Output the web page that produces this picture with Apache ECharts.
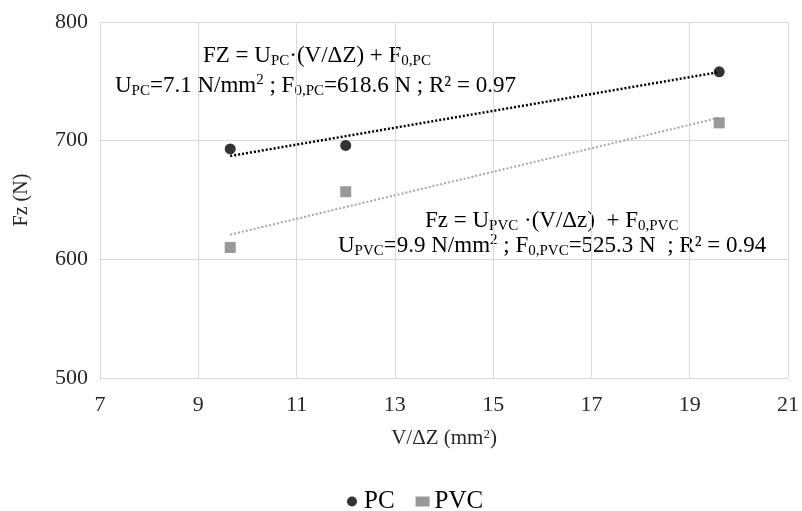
<!DOCTYPE html>
<html>
<head>
<meta charset="utf-8">
<script src="https://cdn.jsdelivr.net/npm/echarts@6/dist/echarts.min.js"></script>
<style>
  html, body { margin: 0; padding: 0; background: #fff; }
  #chart { width: 802px; height: 511px; }
</style>
</head>
<body>
<div id="chart"></div>
<script>
// data
const xValues = [9.65, 12.0, 19.6];
const pcValues = [693, 696, 758];
const pvcValues = [610, 657, 715];
// trend line end points (first and last x)
const trendX = [9.65, 19.6];
const pcTrend = [687.1, 757.8];
const pvcTrend = [620.8, 719.3];

const font = "'Liberation Serif', 'DejaVu Serif', serif";

const pair = (xs, ys) => xs.map((x, i) => [x, ys[i]]);

const txt = { fontFamily: font, fontSize: 23, color: "#000", lineHeight: 26 };
const sub = { fontFamily: font, fontSize: 15, color: "#000", verticalAlign: "bottom", lineHeight: 26 };
const sup = { fontFamily: font, fontSize: 15, color: "#000", verticalAlign: "top", lineHeight: 26 };

const chart = echarts.init(document.getElementById("chart"));
chart.setOption({
  animation: false,
  grid: { left: 100, right: 12, top: 22, bottom: 133 },
  xAxis: {
    type: "value",
    min: 7,
    max: 21,
    interval: 2,
    name: "{a|V/ΔZ (mm}{s|2}{a|)}",
    nameLocation: "middle",
    nameGap: 50,
    nameTextStyle: {
      rich: {
        a: { fontFamily: font, fontSize: 21, color: "#262626" },
        s: { fontFamily: font, fontSize: 13, color: "#262626", verticalAlign: "top", padding: [0, 0, 8, 0] },
      },
    },
    axisLine: { show: false },
    axisTick: { show: false },
    axisLabel: { fontFamily: font, fontSize: 22, color: "#262626", margin: 16 },
    splitLine: { show: true, lineStyle: { color: "#d9d9d9", width: 1 } },
  },
  yAxis: {
    type: "value",
    min: 500,
    max: 800,
    interval: 100,
    name: "Fz (N)",
    nameLocation: "middle",
    nameGap: 68,
    nameTextStyle: { fontFamily: font, fontSize: 20, color: "#262626" },
    axisLine: { show: false },
    axisTick: { show: false },
    axisLabel: { fontFamily: font, fontSize: 22, color: "#262626", margin: 12 },
    splitLine: { show: true, lineStyle: { color: "#d9d9d9", width: 1 } },
  },
  legend: {
    top: 484,
    left: 342,
    itemWidth: 14,
    itemHeight: 10,
    itemGap: 21,
    textStyle: { fontFamily: font, fontSize: 25, color: "#000" },
    data: [
      { name: "PC", icon: "circle" },
      { name: "PVC", icon: "rect" },
    ],
  },
  series: [
    {
      name: "PC",
      type: "scatter",
      symbol: "circle",
      symbolSize: 11,
      itemStyle: { color: "#000" },
      data: pair(xValues, pcValues),
      z: 5,
    },
    {
      name: "PVC",
      type: "scatter",
      symbol: "rect",
      symbolSize: 11,
      itemStyle: { color: "#7f7f7f" },
      data: pair(xValues, pvcValues),
      z: 5,
    },
    {
      name: "PC trend",
      type: "line",
      showSymbol: false,
      symbol: "none",
      lineStyle: { color: "#000", width: 2.5, type: [2, 2] },
      data: pair(trendX, pcTrend),
      z: 3,
    },
    {
      name: "PVC trend",
      type: "line",
      showSymbol: false,
      symbol: "none",
      lineStyle: { color: "#a6a6a6", width: 2, type: [2, 2] },
      data: pair(trendX, pvcTrend),
      z: 3,
    },
  ],
  graphic: [
    {
      type: "text",
      left: 203,
      top: 44,
      style: {
        text: "{t|FZ = U}{b|PC}{t|·(V/ΔZ) + F}{b|0,PC}",
        rich: { t: txt, b: sub },
      },
    },
    {
      type: "text",
      left: 115,
      top: 73,
      style: {
        text: "{t|U}{b|PC}{t|=7.1 N/mm}{p|2}{t| ; F}{b|0,PC}{t|=618.6 N ; R² = 0.97}",
        rich: { t: txt, b: sub, p: sup },
      },
    },
    {
      type: "text",
      left: 425,
      top: 209,
      style: {
        text: "{t|Fz = U}{b|PVC}{t| ·(V/Δz)  + F}{b|0,PVC}",
        rich: { t: txt, b: sub },
      },
    },
    {
      type: "text",
      left: 338,
      top: 233,
      style: {
        text: "{t|U}{b|PVC}{t|=9.9 N/mm}{p|2}{t| ; F}{b|0,PVC}{t|=525.3 N  ; R² = 0.94}",
        rich: { t: txt, b: sub, p: sup },
      },
    },
  ],
});
</script>
</body>
</html>
